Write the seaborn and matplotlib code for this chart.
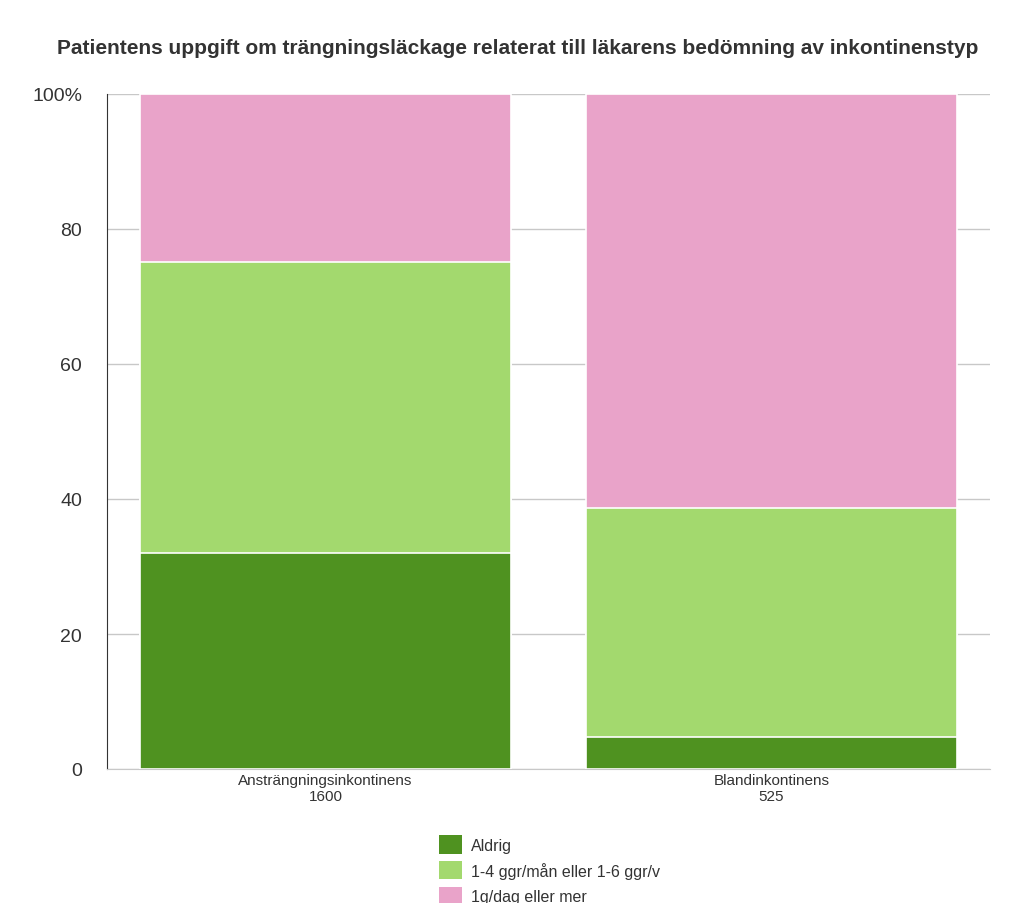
import matplotlib
matplotlib.use("Agg")
import matplotlib.pyplot as plt
import seaborn as sns
import numpy as np
import pandas as pd
from matplotlib.patches import Patch

categories = ["Ansträngningsinkontinens\n1600", "Blandinkontinens\n525"]
aldrig = [32.0, 4.7]
manad = [43.1, 34.0]
dag = [24.9, 61.3]
series_names = ["Aldrig", "1-4 ggr/mån eller 1-6 ggr/v", "1g/dag eller mer"]
colors = ["#4f9220", "#a3d96e", "#e9a3c9"]
yticks = [0, 20, 40, 60, 80, 100]
yticklabels = ["0", "20", "40", "60", "80", "100%"]

sns.set_style("white")
plt.rcParams['font.family'] = ['Liberation Sans', 'DejaVu Sans']
fig = plt.figure(figsize=(10.24, 9.04), dpi=100)
ax = fig.add_axes([107/1024, 1-770/904, 883/1024, 675/904])

c1 = np.array(aldrig)
c2 = c1 + np.array(manad)
c3 = c2 + np.array(dag)
for vals, col in zip([c3, c2, c1], colors[::-1]):
    df = pd.DataFrame({"cat": categories, "v": vals})
    sns.barplot(data=df, x="cat", y="v", color=col, width=0.832,
                edgecolor="white", linewidth=1.2, ax=ax, saturation=1, zorder=3)

ax.set_xlim(-0.49, 1.49)
ax.set_ylim(0, 100)
ax.set_yticks(yticks)
ax.set_yticklabels(yticklabels, fontsize=14, color="#333333")
ax.tick_params(axis="y", length=14, color="#333333", width=1, pad=4)
ax.tick_params(axis="x", length=0, labelsize=11, colors="#333333", pad=3)
ax.set_xlabel(""); ax.set_ylabel("")
ax.grid(axis="y", color="#c8c8c8", linewidth=1, zorder=0)
ax.set_axisbelow(True)
for s in ["top", "right"]:
    ax.spines[s].set_visible(False)
ax.spines["left"].set_color("#333333")
ax.spines["bottom"].set_color("#c8c8c8")

fig.text(57/1024, 1-48/904,
         "Patientens uppgift om trängningsläckage relaterat till läkarens bedömning av inkontinenstyp",
         fontsize=15, fontweight="bold", color="#333333", va="center", ha="left")

handles = [Patch(facecolor=c, edgecolor="none") for c in colors]
fig.legend(handles, series_names, loc="upper left", bbox_to_anchor=(425/1024, 1-822/904),
           frameon=False, fontsize=11.5, handlelength=1.4, handleheight=1.4,
           labelspacing=0.45, handletextpad=0.6, labelcolor="#333333")

fig.savefig("out.png", dpi=100)
